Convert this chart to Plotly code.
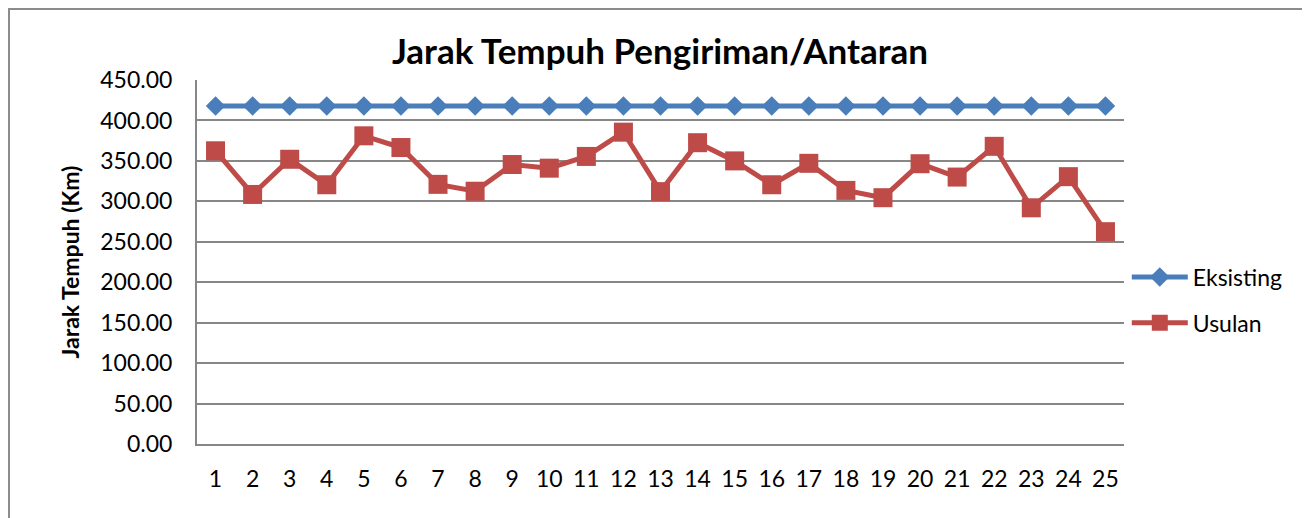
import plotly.graph_objects as go

# ==================== data ====================
days = [str(i) for i in range(1, 26)]
eksisting = [418.0] * 25
usulan = [362.5, 308.5, 352.0, 320.5, 381.0, 366.5, 321.0, 312.5, 345.5, 341.0,
          355.5, 385.5, 312.0, 372.5, 350.0, 320.5, 347.0, 313.5, 304.5, 346.5,
          330.0, 368.0, 292.0, 330.5, 262.5]
y_ticks = [0, 50, 100, 150, 200, 250, 300, 350, 400, 450]

FONT = "Lato"
GRID = "#878787"
# page body has an 8px margin, so the figure is drawn 8px smaller
W, H = 1302, 510
L, T, R, B = 189, 72, 186, 74
PW, PH = W - L - R, H - T - B

fig = go.Figure()

fig.add_trace(go.Scatter(x=days, y=eksisting, name="Eksisting", legendgroup="a",
                         mode="lines+markers",
                         line=dict(color="#4A7EBB", width=5),
                         marker=dict(symbol="diamond", size=15, color="#4A7EBB")))

fig.add_trace(go.Scatter(x=days, y=usulan, name="Usulan", legendgroup="b",
                         mode="lines+markers",
                         line=dict(color="#BE4B48", width=5),
                         marker=dict(symbol="square", size=19, color="#BE4B48")))

fig.update_layout(
    width=W, height=H,
    margin=dict(l=L, r=R, t=T, b=B),
    paper_bgcolor="white", plot_bgcolor="white",
    font=dict(family=FONT, size=23, color="black"),
    title=dict(text="<b>Jarak Tempuh Pengiriman/Antaran</b>",
               font=dict(family=FONT, size=35, color="black"),
               x=(660 - 8) / W, xanchor="center", xref="container",
               y=1 - 44 / H, yanchor="middle", yref="container"),
    legend=dict(x=1.003, y=0.5 - 38 / PH, xanchor="left", yanchor="middle",
                font=dict(family=FONT, size=23), itemwidth=56,
                tracegroupgap=13, bgcolor="rgba(0,0,0,0)"),
    showlegend=True,
    shapes=[dict(type="rect", xref="paper", yref="paper",
                 x0=(1 - L) / PW, x1=1.3, y0=-0.4, y1=(T + PH - 1) / PH,
                 line=dict(color="#8c8c8c", width=2), layer="below")],
)

fig.update_xaxes(type="category", range=[-0.5, len(days) - 0.5],
                 showgrid=False, showline=True,
                 linecolor=GRID, linewidth=2, ticks="", ticklabelstandoff=13,
                 tickfont=dict(family=FONT, size=23))
fig.update_yaxes(range=[0, 450], tickvals=y_ticks, tickformat=".2f",
                 showgrid=True, gridcolor=GRID, gridwidth=1.5,
                 showline=True, linecolor=GRID, linewidth=2, zeroline=False,
                 ticks="", ticklabelstandoff=18,
                 tickfont=dict(family=FONT, size=23),
                 title=dict(text="<b>Jarak Tempuh (Km)</b>", standoff=14,
                            font=dict(family=FONT, size=23)))

fig.write_html("out.html")
